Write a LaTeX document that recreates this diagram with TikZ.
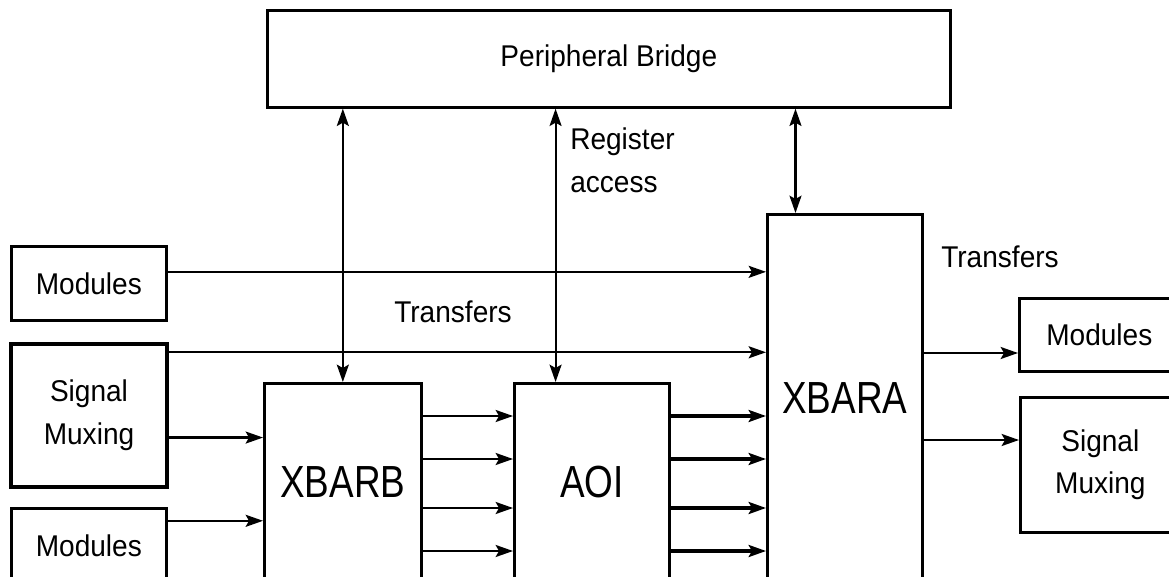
\documentclass[tikz,border=0pt]{standalone}
\usepackage{fontspec}
\setmainfont{Liberation Sans}[FakeStretch=0.935]
\newfontfamily\bigfont{Liberation Sans}[FakeStretch=0.82]
\usetikzlibrary{arrows.meta,calc}
\begin{document}
\begin{tikzpicture}[x=0.75pt,y=-0.75pt,
  box/.style={draw,line width=2pt,inner sep=0pt,anchor=north west,align=center,
    font=\fontsize{22.5}{32}\selectfont},
  bigbox/.style={box,font=\bigfont\fontsize{33.75}{40}\selectfont},
  lbl/.style={inner sep=0pt,align=left,font=\fontsize{22.5}{32}\selectfont},
  conn/.style={line width=1.6pt,-{Stealth[length=13pt,width=9pt,inset=2.5pt]}},
  bconn/.style={line width=1.6pt,{Stealth[length=13pt,width=9pt,inset=2.5pt]}-{Stealth[length=13pt,width=9pt,inset=2.5pt]}},
  thick conn/.style={conn,line width=2.3pt}]
\useasboundingbox (0,0) rectangle (1169,577);
\clip (0,0) rectangle (1169,577);
% boxes
\node[box,minimum width=683*0.75pt,minimum height=97*0.75pt] (bridge) at (266,9) {Peripheral Bridge};
\node[box,minimum width=155*0.75pt,minimum height=74*0.75pt] (modA) at (10,245) {Modules};
\node[box,line width=3pt,minimum width=156*0.75pt,minimum height=143*0.75pt] (sigL) at (9,342) {Signal\\Muxing};
\node[box,minimum width=155*0.75pt,minimum height=74*0.75pt] (modC) at (10,507) {Modules};
\node[bigbox,minimum width=157*0.75pt,minimum height=198*0.75pt] (xbarb) at (263,382) {XBARB};
\node[bigbox,minimum width=155*0.75pt,minimum height=198*0.75pt] (aoi) at (513,382) {AOI};
\node[bigbox,minimum width=155*0.75pt,minimum height=367*0.75pt] (xbara) at (766,213) {XBARA};
\node[box,minimum width=160*0.75pt,minimum height=73*0.75pt] (modR) at (1018,297) {Modules};
\node[box,minimum width=160*0.75pt,minimum height=135*0.75pt] (sigR) at (1019,396) {Signal\\Muxing};
% labels
\node[lbl,anchor=west] (reg) at (570,160) {Register\\access};
\node[lbl] (tr1) at (453,312) {Transfers};
\node[lbl] (tr2) at (1000,257) {Transfers};
% register access connectors
\draw[bconn] (bridge.south -| xbarb.north) -- (xbarb.north);
\coordinate (aoiT) at ($(aoi.north west)!0.27!(aoi.north east)$);
\draw[bconn] (bridge.south -| aoiT) -- (aoiT);
\coordinate (xaT) at ($(xbara.north west)!0.187!(xbara.north east)$);
\draw[bconn] (bridge.south -| xaT) -- (xaT);
% inputs
\draw[conn] ($(modA.north east)!0.35!(modA.south east)$) coordinate (t1) -- (t1 -| xbara.west);
\draw[conn] ($(sigL.north east)!0.07!(sigL.south east)$) coordinate (t2) -- (t2 -| xbara.west);
\draw[conn] ($(sigL.north east)!0.65!(sigL.south east)$) coordinate (t3) -- (t3 -| xbarb.west);
\draw[conn] ($(modC.north east)!0.18!(modC.south east)$) coordinate (t4) -- (t4 -| xbarb.west);
% XBARB -> AOI -> XBARA
\foreach \yy in {416,459,508,551}{
  \draw[conn] (xbarb.east |- 0,\yy) -- (aoi.west |- 0,\yy);
  \draw[thick conn] (aoi.east |- 0,\yy) -- (xbara.west |- 0,\yy);
}
% outputs
\draw[conn] (xbara.east |- 0,353) -- (modR.west |- 0,353);
\draw[conn] (xbara.east |- 0,440) -- (sigR.west |- 0,440);
\end{tikzpicture}
\end{document}
